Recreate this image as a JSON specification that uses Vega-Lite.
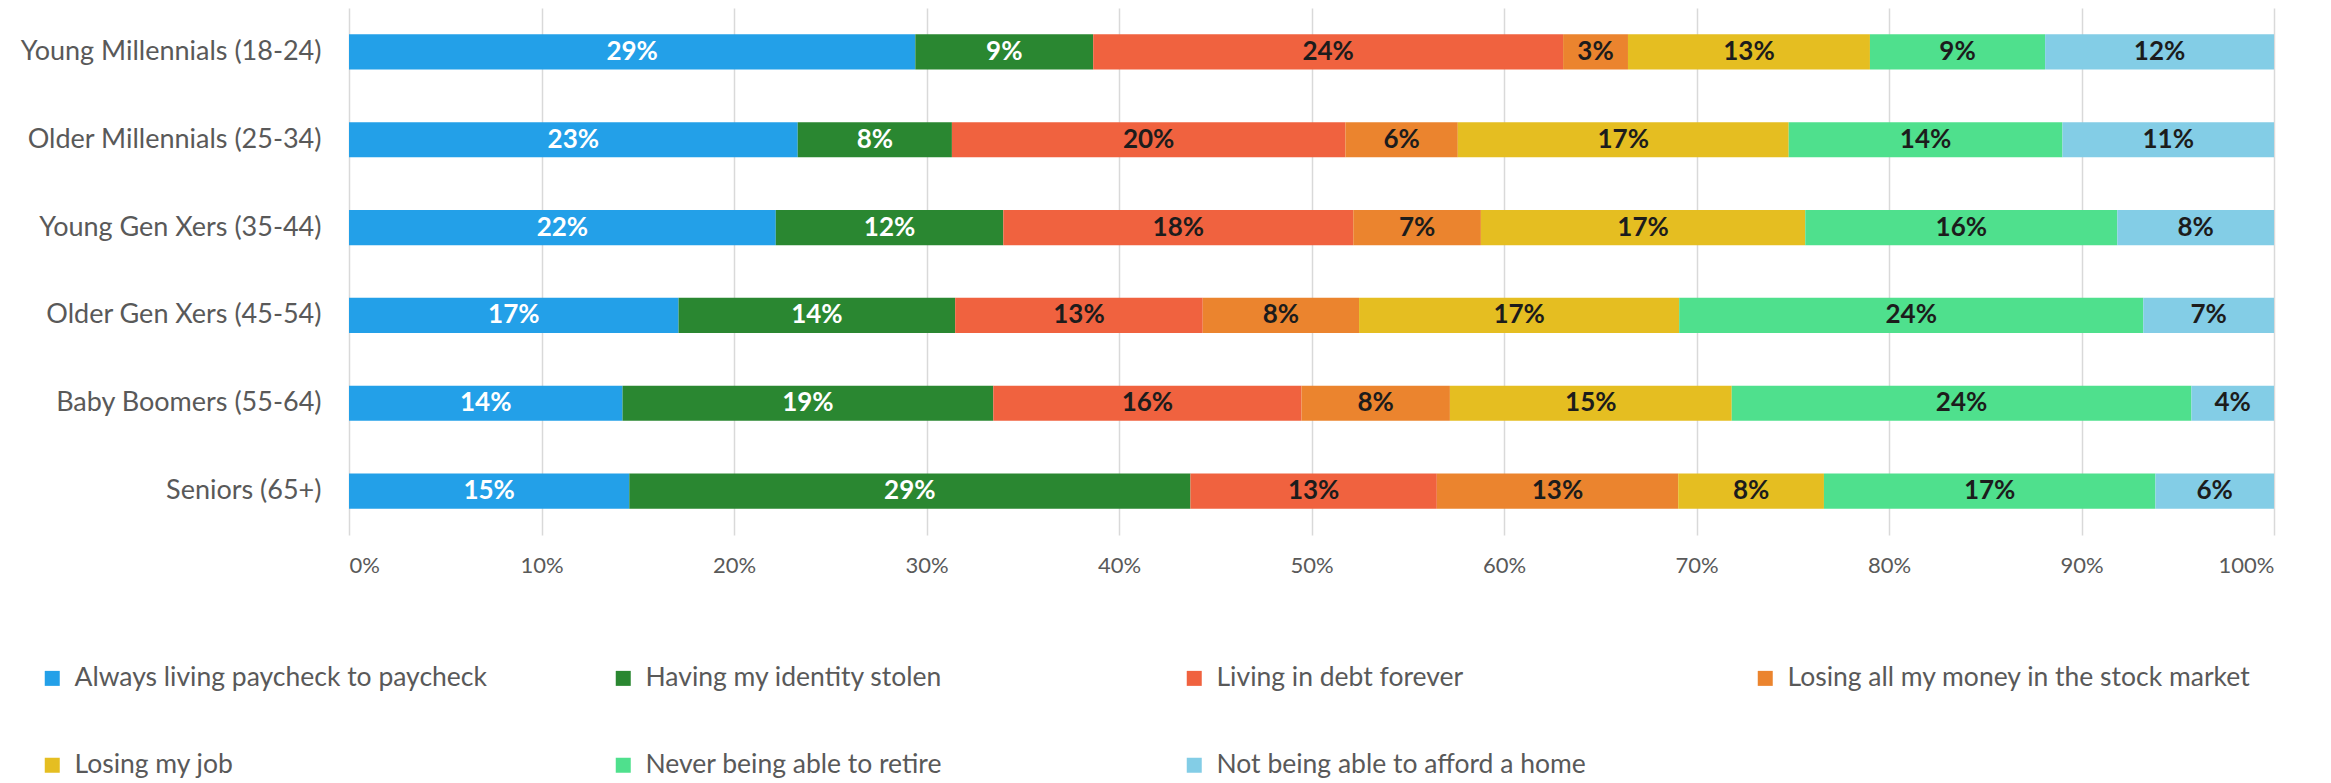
{
  "$schema": "https://vega.github.io/schema/vega-lite/v6.json",
  "width": 1925,
  "height": 527,
  "autosize": "none",
  "padding": {"left": 349, "top": 8, "right": 57, "bottom": 248},
  "background": "white",
  "data": {"values": [
    {"group": "Young Millennials (18-24)", "cat": "Always living paycheck to paycheck", "value": 29.42, "label": "29%"},
    {"group": "Young Millennials (18-24)", "cat": "Having my identity stolen", "value": 9.24, "label": "9%"},
    {"group": "Young Millennials (18-24)", "cat": "Living in debt forever", "value": 24.41, "label": "24%"},
    {"group": "Young Millennials (18-24)", "cat": "Losing all my money in the stock market", "value": 3.37, "label": "3%"},
    {"group": "Young Millennials (18-24)", "cat": "Losing my job", "value": 12.57, "label": "13%"},
    {"group": "Young Millennials (18-24)", "cat": "Never being able to retire", "value": 9.10, "label": "9%"},
    {"group": "Young Millennials (18-24)", "cat": "Not being able to afford a home", "value": 11.89, "label": "12%"},
    {"group": "Older Millennials (25-34)", "cat": "Always living paycheck to paycheck", "value": 23.31, "label": "23%"},
    {"group": "Older Millennials (25-34)", "cat": "Having my identity stolen", "value": 8.01, "label": "8%"},
    {"group": "Older Millennials (25-34)", "cat": "Living in debt forever", "value": 20.44, "label": "20%"},
    {"group": "Older Millennials (25-34)", "cat": "Losing all my money in the stock market", "value": 5.84, "label": "6%"},
    {"group": "Older Millennials (25-34)", "cat": "Losing my job", "value": 17.19, "label": "17%"},
    {"group": "Older Millennials (25-34)", "cat": "Never being able to retire", "value": 14.22, "label": "14%"},
    {"group": "Older Millennials (25-34)", "cat": "Not being able to afford a home", "value": 10.99, "label": "11%"},
    {"group": "Young Gen Xers (35-44)", "cat": "Always living paycheck to paycheck", "value": 22.17, "label": "22%"},
    {"group": "Young Gen Xers (35-44)", "cat": "Having my identity stolen", "value": 11.82, "label": "12%"},
    {"group": "Young Gen Xers (35-44)", "cat": "Living in debt forever", "value": 18.18, "label": "18%"},
    {"group": "Young Gen Xers (35-44)", "cat": "Losing all my money in the stock market", "value": 6.63, "label": "7%"},
    {"group": "Young Gen Xers (35-44)", "cat": "Losing my job", "value": 16.85, "label": "17%"},
    {"group": "Young Gen Xers (35-44)", "cat": "Never being able to retire", "value": 16.21, "label": "16%"},
    {"group": "Young Gen Xers (35-44)", "cat": "Not being able to afford a home", "value": 8.14, "label": "8%"},
    {"group": "Older Gen Xers (45-54)", "cat": "Always living paycheck to paycheck", "value": 17.12, "label": "17%"},
    {"group": "Older Gen Xers (45-54)", "cat": "Having my identity stolen", "value": 14.37, "label": "14%"},
    {"group": "Older Gen Xers (45-54)", "cat": "Living in debt forever", "value": 12.86, "label": "13%"},
    {"group": "Older Gen Xers (45-54)", "cat": "Losing all my money in the stock market", "value": 8.12, "label": "8%"},
    {"group": "Older Gen Xers (45-54)", "cat": "Losing my job", "value": 16.63, "label": "17%"},
    {"group": "Older Gen Xers (45-54)", "cat": "Never being able to retire", "value": 24.11, "label": "24%"},
    {"group": "Older Gen Xers (45-54)", "cat": "Not being able to afford a home", "value": 6.79, "label": "7%"},
    {"group": "Baby Boomers (55-64)", "cat": "Always living paycheck to paycheck", "value": 14.21, "label": "14%"},
    {"group": "Baby Boomers (55-64)", "cat": "Having my identity stolen", "value": 19.26, "label": "19%"},
    {"group": "Baby Boomers (55-64)", "cat": "Living in debt forever", "value": 16.01, "label": "16%"},
    {"group": "Baby Boomers (55-64)", "cat": "Losing all my money in the stock market", "value": 7.71, "label": "8%"},
    {"group": "Baby Boomers (55-64)", "cat": "Losing my job", "value": 14.64, "label": "15%"},
    {"group": "Baby Boomers (55-64)", "cat": "Never being able to retire", "value": 23.88, "label": "24%"},
    {"group": "Baby Boomers (55-64)", "cat": "Not being able to afford a home", "value": 4.29, "label": "4%"},
    {"group": "Seniors (65+)", "cat": "Always living paycheck to paycheck", "value": 14.56, "label": "15%"},
    {"group": "Seniors (65+)", "cat": "Having my identity stolen", "value": 29.15, "label": "29%"},
    {"group": "Seniors (65+)", "cat": "Living in debt forever", "value": 12.80, "label": "13%"},
    {"group": "Seniors (65+)", "cat": "Losing all my money in the stock market", "value": 12.54, "label": "13%"},
    {"group": "Seniors (65+)", "cat": "Losing my job", "value": 7.57, "label": "8%"},
    {"group": "Seniors (65+)", "cat": "Never being able to retire", "value": 17.22, "label": "17%"},
    {"group": "Seniors (65+)", "cat": "Not being able to afford a home", "value": 6.16, "label": "6%"}
  ]},
  "transform": [
    {"stack": "value", "groupby": ["group"], "sort": [{"field": "cat", "order": "ascending"}], "as": ["x0", "x1"]},
    {"calculate": "(datum.x0 + datum.x1) / 2", "as": "mid"}
  ],
  "encoding": {
    "y": {
      "field": "group", "type": "nominal", "sort": null, "title": null,
      "scale": {"paddingInner": 0.6, "paddingOuter": 0.3},
      "axis": {"domain": false, "ticks": false, "grid": false, "labelFontSize": 27, "labelFont": "Lato", "labelColor": "#595959", "labelPadding": 28, "labelLimit": 400}
    }
  },
  "layer": [
    {
      "mark": {"type": "bar"},
      "encoding": {
        "x": {
          "field": "x0", "type": "quantitative", "title": null,
          "scale": {"domain": [0, 100], "nice": false},
          "axis": {"values": [0,10,20,30,40,50,60,70,80,90,100], "labelExpr": "datum.value + '%'", "domain": false, "ticks": false, "grid": true, "gridColor": "#d9d9d9", "gridWidth": 1.5, "labelFontSize": 22, "labelFont": "Lato", "labelColor": "#595959", "labelPadding": 20}
        },
        "x2": {"field": "x1"},
        "color": {
          "field": "cat", "type": "nominal", "title": null,
          "scale": {
            "domain": ["Always living paycheck to paycheck", "Having my identity stolen", "Living in debt forever", "Losing all my money in the stock market", "Losing my job", "Never being able to retire", "Not being able to afford a home"],
            "range": ["#23A0E8", "#2A8731", "#F0623F", "#EB842E", "#E5BE21", "#4FE08D", "#83CDE6"]
          },
          "legend": {
            "orient": "none", "direction": "horizontal", "legendX": -310, "legendY": 657, "columns": 4, "gridAlign": "all", "padding": 0,
            "symbolType": "square", "symbolSize": 225, "symbolStrokeWidth": 0, "symbolOpacity": 1,
            "labelFontSize": 26.5, "labelFont": "Lato", "labelColor": "#595959", "labelOffset": 9,
            "columnPadding": 72, "rowPadding": 60, "labelLimit": 700
          }
        }
      }
    },
    {
      "mark": {"type": "text", "font": "Lato", "fontWeight": "bold", "fontSize": 26, "baseline": "middle", "align": "center"},
      "encoding": {
        "x": {"field": "mid", "type": "quantitative"},
        "text": {"field": "label"},
        "color": {
          "condition": {"test": "datum.cat === 'Always living paycheck to paycheck' || datum.cat === 'Having my identity stolen'", "value": "#ffffff"},
          "value": "#1c1c1c"
        }
      }
    }
  ],
  "config": {"view": {"stroke": null}}
}
